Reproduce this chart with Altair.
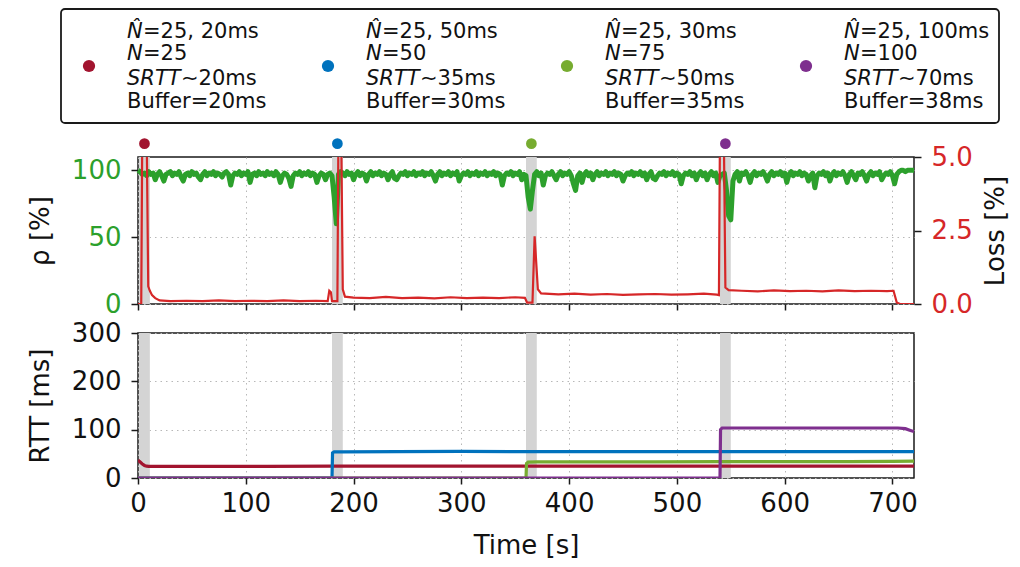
import altair as alt
import pandas as pd

FONT = "DejaVu Sans"

# ---------------- data ----------------
# utilisation rho [%], sampled every 2 s from t=0 to t=720
rho = [
    100, 99, 97, 98, 96, 99, 97, 98, 93, 97, 99, 96, 92, 97, 98, 99, 96, 98, 97, 99, 95, 92, 97, 98, 96, 99, 97, 98, 95, 93,
    97, 99, 96, 98, 97, 99, 96, 98, 97, 95, 98, 99, 97, 89, 96, 98, 97, 99, 96, 98, 97, 99, 91, 97, 98, 96, 99, 97, 98, 96,
    99, 97, 98, 96, 99, 97, 91, 96, 98, 97, 94, 88, 96, 98, 97, 99, 96, 98, 97, 99, 96, 98, 97, 91, 96, 98, 97, 93, 97, 98,
    96, 80, 60, 97, 99, 98, 96, 99, 97, 98, 93, 97, 99, 96, 98, 97, 92, 97, 99, 96, 98, 97, 99, 96, 98, 97, 93, 97, 99, 94,
    93, 96, 98, 97, 99, 96, 98, 97, 99, 96, 98, 97, 99, 96, 98, 97, 99, 96, 92, 97, 99, 96, 98, 97, 99, 96, 98, 97, 99, 92,
    96, 98, 97, 99, 96, 98, 97, 99, 96, 98, 97, 99, 96, 98, 97, 99, 96, 98, 97, 89, 96, 98, 97, 99, 96, 98, 97, 99, 93, 97,
    96, 80, 71, 85, 97, 99, 96, 98, 89, 96, 98, 97, 99, 96, 93, 97, 99, 96, 98, 97, 99, 96, 90, 85, 96, 98, 91, 97, 99, 96,
    98, 93, 97, 99, 96, 98, 97, 99, 96, 98, 97, 99, 96, 98, 97, 92, 96, 98, 97, 99, 96, 98, 97, 99, 96, 98, 93, 97, 99, 94,
    93, 96, 98, 97, 99, 96, 98, 97, 99, 96, 98, 97, 90, 96, 98, 97, 99, 96, 98, 93, 97, 99, 96, 98, 93, 97, 99, 96, 98, 91,
    96, 97, 98, 85, 66, 63, 92, 97, 99, 92, 98, 97, 99, 96, 91, 97, 99, 96, 98, 97, 99, 96, 92, 97, 99, 96, 98, 97, 99, 96,
    98, 91, 97, 99, 96, 98, 97, 99, 96, 98, 97, 92, 96, 98, 87, 96, 98, 97, 99, 96, 98, 92, 97, 99, 96, 98, 97, 99, 96, 91,
    97, 99, 96, 93, 98, 97, 99, 96, 92, 97, 99, 96, 98, 97, 99, 93, 96, 98, 97, 99, 96, 90, 97, 99, 100, 100, 99, 100, 100, 100,
    100,
]
rho_t = [2 * i for i in range(len(rho))]

# loss [%]
loss_t = [0, 3, 4, 8, 9.5, 11, 13, 16, 20, 30, 45, 60, 75, 90, 105, 120, 135, 150, 165, 176, 177.5, 179, 180,
          185, 186, 188.5, 190, 192, 200, 215, 230, 245, 260, 275, 290, 305, 320, 335, 350, 359, 361, 366,
          368, 371, 374, 390, 405, 420, 435, 450, 465, 480, 495, 510, 525, 537, 539, 540, 543.5, 545, 548,
          560, 575, 590, 605, 620, 635, 650, 665, 680, 695, 701, 704, 707, 720]
loss_v = [0.0, 0.0, 6.0, 6.0, 0.6, 0.45, 0.3, 0.2, 0.12, 0.1, 0.11, 0.1, 0.12, 0.1, 0.11, 0.1, 0.12, 0.1, 0.11, 0.1, 0.45, 0.4, 0.1,
          0.1, 6.0, 6.0, 0.5, 0.25, 0.22, 0.2, 0.24, 0.2, 0.22, 0.19, 0.23, 0.2, 0.22, 0.2, 0.23, 0.21, 0.05, 0.05,
          2.3, 0.5, 0.36, 0.33, 0.35, 0.32, 0.34, 0.31, 0.33, 0.34, 0.32, 0.33, 0.35, 0.32, 0.3, 6.0, 6.0, 0.56, 0.47,
          0.45, 0.43, 0.46, 0.44, 0.45, 0.43, 0.46, 0.44, 0.45, 0.44, 0.45, 0.05, 0.0, 0.0]

# RTT [ms] per flow
rtt1_t = [0, 2, 4, 6, 8, 10, 20, 60, 120, 180, 240, 300, 360, 420, 480, 540, 600, 660, 720]
rtt1_v = [37, 33, 29, 26, 24.5, 24, 24, 24, 24, 24.5, 24.5, 24.5, 24.5, 24.5, 24.5, 24.5, 24.5, 24.5, 24.5]
rtt2_t = [0, 180, 180.5, 182, 190, 240, 300, 360, 420, 480, 540, 600, 660, 720]
rtt2_v = [0, 0, 52, 54, 54, 54.5, 55, 54.5, 54.5, 54.5, 54.5, 54.5, 54.5, 54.5]
rtt3_t = [0, 360, 360.5, 362, 370, 420, 480, 540, 600, 660, 700, 720]
rtt3_v = [0, 0, 30, 33, 33.5, 33.5, 33.5, 34, 34, 34, 34.5, 35]
rtt4_t = [0, 540, 540.5, 542, 560, 600, 640, 680, 705, 712, 716, 720]
rtt4_v = [0, 0, 100, 103.5, 103.5, 103.5, 103.5, 103.5, 103.5, 102, 99, 96]

# phase start windows and markers
band_start = [1, 180, 360, 540]
band_end = [11, 190, 370, 550]
marker_t = [6, 185, 365, 545]
flow_colors = ["#A2142F", "#0072BD", "#77AC30", "#7E2F8E"]

# legend texts
leg_line1 = ["=25, 20ms", "=25, 50ms", "=25, 30ms", "=25, 100ms"]
leg_line2 = ["=25", "=50", "=75", "=100"]
leg_line3 = ["\u223c20ms", "\u223c35ms", "\u223c50ms", "\u223c70ms"]
leg_line4 = ["Buffer=20ms", "Buffer=30ms", "Buffer=35ms", "Buffer=38ms"]

# ---------------- layout constants ----------------
W = 776
H_TOP = 147
H_BOT = 145
LEG_W = W
LEG_H = 119
BOX = (-77, 861, 0, 114)
COL_W = 239
DOT_X0 = -49
TXT_X0 = -11
LINE_Y = [22.5, 45, 69.5, 92.5]
DOT_Y = 57
LEG_FS = 21
IT_W = {"N\u0302": 16, "N": 16, "SRTT": 54, "": 0}

GREEN = "#2ca02c"
RED = "#d62728"
GRID = dict(grid=True, gridColor="#b8b8b8", gridDash=[1.5, 4], gridWidth=1)

# ---------------- legend ----------------
lx = alt.Scale(domain=[0, LEG_W], range=[0, LEG_W], nice=False, zero=False)
ly = alt.Scale(domain=[0, LEG_H], range=[0, LEG_H], nice=False, zero=False)

box_df = pd.DataFrame([dict(x=BOX[0], x2=BOX[1], y=BOX[2], y2=BOX[3])])
box = alt.Chart(box_df).mark_rect(fill="white", stroke="#1a1a1a", strokeWidth=1.8, cornerRadius=4).encode(
    x=alt.X("x:Q", scale=lx, axis=None), x2="x2:Q",
    y=alt.Y("y:Q", scale=ly, axis=None), y2="y2:Q")

dot_rows, it_rows, ro_rows = [], [], []
for i in range(4):
    dot_rows.append(dict(x=DOT_X0 + i * COL_W, y=DOT_Y, c=flow_colors[i]))
    x0 = TXT_X0 + i * COL_W
    parts = [("N\u0302", leg_line1[i]), ("N", leg_line2[i]), ("SRTT", leg_line3[i]), ("", leg_line4[i])]
    for j, (it, ro) in enumerate(parts):
        if it:
            it_rows.append(dict(x=x0, y=LINE_Y[j], txt=it))
        ro_rows.append(dict(x=x0 + IT_W[it], y=LINE_Y[j], txt=ro))

leg_dots = alt.Chart(pd.DataFrame(dot_rows)).mark_circle(size=150, opacity=1).encode(
    x=alt.X("x:Q", scale=lx, axis=None), y=alt.Y("y:Q", scale=ly, axis=None),
    color=alt.Color("c:N", scale=None))
leg_it = alt.Chart(pd.DataFrame(it_rows)).mark_text(
    align="left", baseline="middle", font=FONT, fontSize=LEG_FS, fontStyle="italic", color="#111").encode(
    x=alt.X("x:Q", scale=lx, axis=None), y=alt.Y("y:Q", scale=ly, axis=None), text="txt:N")
leg_ro = alt.Chart(pd.DataFrame(ro_rows)).mark_text(
    align="left", baseline="middle", font=FONT, fontSize=LEG_FS, color="#111").encode(
    x=alt.X("x:Q", scale=lx, axis=None), y=alt.Y("y:Q", scale=ly, axis=None), text="txt:N")

legend = alt.layer(box, leg_dots, leg_it, leg_ro).properties(
    width=LEG_W, height=LEG_H, view=alt.ViewBackground(stroke="transparent", strokeWidth=0))

# ---------------- shared x ----------------
xs = alt.Scale(domain=[0, 720], nice=False, zero=False)
xticks = [0, 100, 200, 300, 400, 500, 600, 700]
x_axis_top = alt.Axis(values=xticks, labels=False, title=None, tickSize=6, **GRID)
x_axis_bot = alt.Axis(values=xticks, title="Time [s]", tickSize=6, labelPadding=6, titlePadding=16, **GRID)

bands_df = pd.DataFrame({"s": band_start, "e": band_end})

# ---------------- top panel ----------------
rho_scale = alt.Scale(domain=[0, 110], nice=False, zero=False)
rho_axis = alt.Axis(values=[0, 50, 100], title="\u03c1 [%]", labelColor=GREEN, tickSize=7,
                    labelPadding=10, titlePadding=18, orient="left", **GRID)
loss_axis = alt.Axis(values=[0, 2.5, 5], format=".1f", title="Loss [%]", labelColor=RED, tickSize=7,
                     labelPadding=10, titlePadding=10, orient="right", titleAngle=270,
                     titleBaseline="top", grid=False)

bands_top = alt.Chart(bands_df).mark_rect(color="#d4d4d4").encode(
    x=alt.X("s:Q", scale=xs, axis=x_axis_top), x2="e:Q")

rho_df = pd.DataFrame({"t": rho_t, "rho": rho})
rho_line = alt.Chart(rho_df).mark_line(color=GREEN, strokeWidth=5, strokeJoin="round").encode(
    x=alt.X("t:Q", scale=xs, axis=x_axis_top),
    y=alt.Y("rho:Q", scale=rho_scale, axis=rho_axis))

mark_df = pd.DataFrame({"t": marker_t, "rho": [120] * 4, "c": flow_colors})
markers = alt.Chart(mark_df).mark_circle(size=115, opacity=1, clip=False).encode(
    x=alt.X("t:Q", scale=xs, axis=x_axis_top),
    y=alt.Y("rho:Q", scale=rho_scale, axis=rho_axis),
    color=alt.Color("c:N", scale=None))

loss_df = pd.DataFrame({"t": loss_t, "loss": loss_v})
loss_line = alt.Chart(loss_df).mark_line(color=RED, strokeWidth=2.2, clip=True).encode(
    x=alt.X("t:Q", scale=xs, axis=x_axis_top),
    y=alt.Y("loss:Q", scale=alt.Scale(domain=[0, 5], nice=False, zero=False), axis=loss_axis))

top = alt.layer(bands_top, alt.layer(rho_line, markers), loss_line).resolve_scale(
    y="independent").properties(width=W, height=H_TOP)

# ---------------- bottom panel ----------------
rows = []
for k, (ts, vs) in enumerate([(rtt1_t, rtt1_v), (rtt2_t, rtt2_v), (rtt3_t, rtt3_v), (rtt4_t, rtt4_v)]):
    for t, v in zip(ts, vs):
        rows.append(dict(flow=str(k + 1), t=t, rtt=v))
rtt_df = pd.DataFrame(rows)

bands_bot = alt.Chart(bands_df).mark_rect(color="#d4d4d4").encode(
    x=alt.X("s:Q", scale=xs, axis=x_axis_bot), x2="e:Q")

rtt_axis = alt.Axis(values=[0, 100, 200, 300], title="RTT [ms]", tickSize=7, labelPadding=10,
                    titlePadding=18, **GRID)
rtt_lines = alt.Chart(rtt_df).mark_line(strokeWidth=3.2, clip=True).encode(
    x=alt.X("t:Q", scale=xs, axis=x_axis_bot),
    y=alt.Y("rtt:Q", scale=alt.Scale(domain=[0, 300], nice=False), axis=rtt_axis),
    color=alt.Color("flow:N", scale=alt.Scale(domain=["1", "2", "3", "4"], range=flow_colors), legend=None),
    order=alt.Order("t:Q"))

bottom = alt.layer(bands_bot, rtt_lines).properties(width=W, height=H_BOT)

chart = alt.vconcat(legend, top, bottom, spacing=29, bounds="flush").properties(
    padding={"left": 18, "top": 0, "right": 0, "bottom": 2},
    background="white",
).configure_view(stroke="#1a1a1a", strokeWidth=1.5).configure_axis(
    labelFont=FONT, titleFont=FONT, labelFontSize=26, titleFontSize=26,
    labelColor="#111", titleColor="#111", titleFontWeight="normal",
    tickColor="#1a1a1a", tickWidth=1.5, domain=False, labelFlush=False,
)

chart.save("out.html", embed_options={"renderer": "svg", "actions": False})
